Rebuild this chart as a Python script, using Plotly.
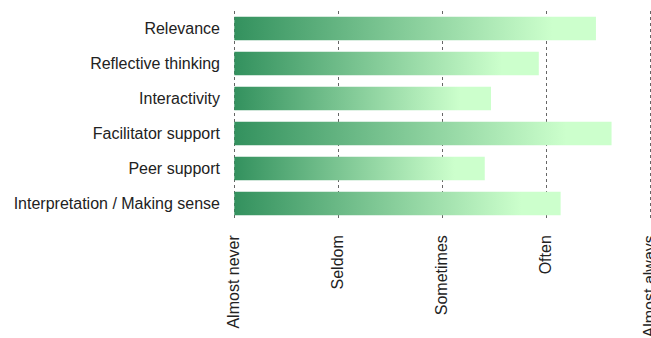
import plotly.graph_objects as go

categories = ["Relevance", "Reflective thinking", "Interactivity",
              "Facilitator support", "Peer support", "Interpretation / Making sense"]
values = [4.48, 3.93, 3.47, 4.63, 3.41, 4.14]
tick_vals = [1, 2, 3, 4, 5]
tick_labels = ["Almost never", "Seldom", "Sometimes", "Often", "Almost always"]

BASE = 1
HALF = 0.335
gradient = [[0, "#33915e"], [0.88, "#ccffcc"], [1, "#ccffcc"]]

fig = go.Figure()
for i, (cat, v) in enumerate(zip(categories, values)):
    fig.add_trace(go.Scatter(
        x=[BASE, v, v, BASE, BASE],
        y=[i - HALF, i - HALF, i + HALF, i + HALF, i - HALF],
        mode="lines",
        line=dict(width=0),
        fill="toself",
        fillgradient=dict(type="horizontal", colorscale=gradient),
        name=cat,
        hoverinfo="skip",
        showlegend=False,
    ))

font = dict(family="Liberation Sans, Arial, sans-serif", size=16, color="#222222")
fig.update_layout(
    width=660, height=338,
    margin=dict(l=230, r=0, t=11, b=117),
    paper_bgcolor="white", plot_bgcolor="white",
    font=font,
    xaxis=dict(
        range=[0.9586, 5.0962], tickvals=tick_vals, ticktext=tick_labels,
        tickangle=-90, showgrid=True, gridcolor="#666666", griddash="dot",
        gridwidth=1, zeroline=False, showline=False, ticks="",
        ticklabelstandoff=10, ticklabeloverflow="allow",
        automargin=False, tickfont=font,
    ),
    yaxis=dict(
        range=[len(categories) - 0.5, -0.5],
        tickvals=list(range(len(categories))), ticktext=categories,
        showgrid=False, zeroline=False, showline=False, ticks="",
        ticklabelstandoff=9, automargin=False, tickfont=font,
    ),
)
fig.write_html("out.html", config={"displayModeBar": False},
               post_script="document.body.style.margin='0';document.body.style.overflow='hidden';")
